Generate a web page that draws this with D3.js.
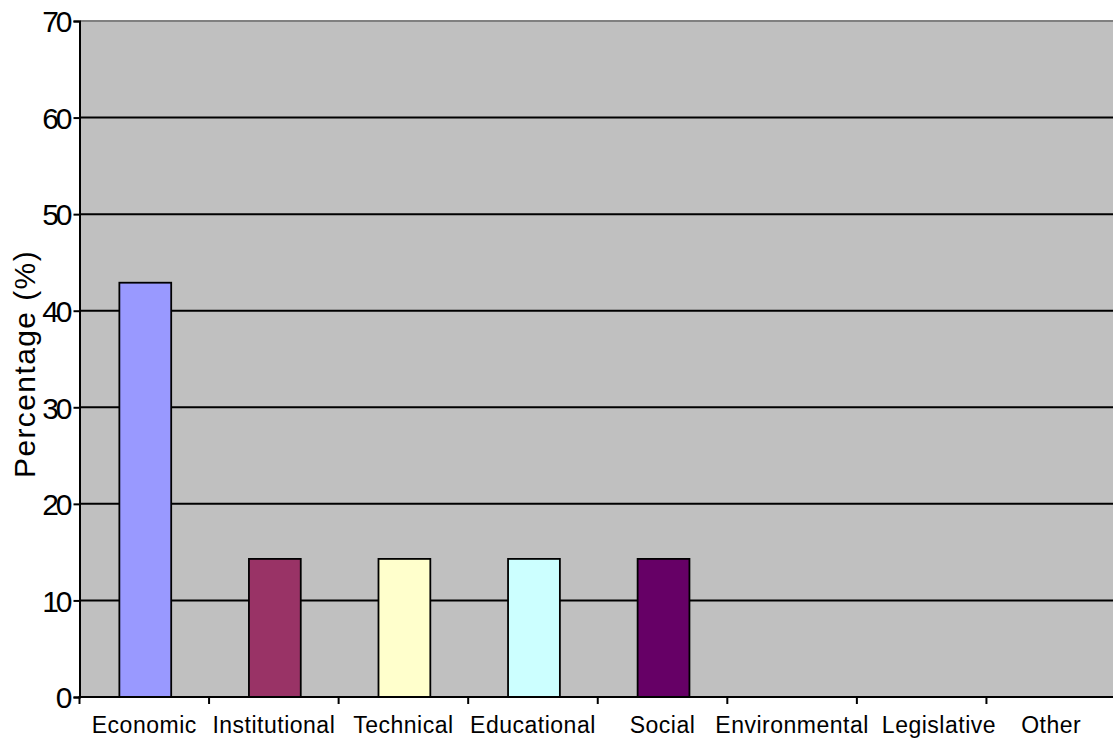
<!DOCTYPE html>
<html>
<head>
<meta charset="utf-8">
<script src="https://cdn.jsdelivr.net/npm/d3@7"></script>
<style>
  html, body { margin: 0; padding: 0; background: #ffffff; }
  svg { display: block; }
  text { font-family: Arial, "Liberation Sans", sans-serif; fill: #000; }
</style>
</head>
<body>
<svg id="chart" width="1113" height="742"></svg>
<script>
const categories = ["Economic", "Institutional", "Technical", "Educational", "Social", "Environmental", "Legislative", "Other"];
const values = [42.9, 14.3, 14.3, 14.3, 14.3, 0, 0, 0];
const colors = ["#9999FF", "#993366", "#FFFFCC", "#CCFFFF", "#660066", "#CCFFFF", "#660066", "#FF8080"];
const yTicks = [0, 10, 20, 30, 40, 50, 60, 70];
const yTitle = "Percentage (%)";

(function () {
const svg = d3.select("#chart");
const pLeft = 79.5, pRight = 1116, pTop = 21, pBottom = 697;

const x = d3.scaleBand().domain(categories).range([pLeft, pRight]).padding(0);
const y = d3.scaleLinear().domain([0, 70]).range([pBottom, pTop]);

// plot background
svg.append("rect")
  .attr("x", pLeft).attr("y", pTop)
  .attr("width", pRight - pLeft).attr("height", pBottom - pTop)
  .attr("fill", "#C0C0C0");

// top border
svg.append("line")
  .attr("x1", pLeft).attr("x2", pRight)
  .attr("y1", pTop).attr("y2", pTop)
  .attr("stroke", "#808080").attr("stroke-width", 2);

// gridlines
svg.append("g").selectAll("line")
  .data(yTicks.filter(d => d > 0 && d < 70))
  .join("line")
  .attr("x1", pLeft).attr("x2", pRight)
  .attr("y1", d => y(d)).attr("y2", d => y(d))
  .attr("stroke", "#000").attr("stroke-width", 2);

// bars
const bw = x.bandwidth() * 0.4;
svg.append("g").selectAll("rect")
  .data(categories.map((c, i) => ({ c, v: values[i], col: colors[i] })))
  .join("rect")
  .attr("x", d => x(d.c) + (x.bandwidth() - bw) / 2 + 1)
  .attr("y", d => y(d.v))
  .attr("width", bw)
  .attr("height", d => y(0) - y(d.v))
  .attr("fill", d => d.col)
  .attr("stroke", "#000")
  .attr("stroke-width", 1.8)
  .attr("visibility", d => d.v > 0 ? "visible" : "hidden");

// y axis
const yAxis = svg.append("g")
  .attr("transform", `translate(${pLeft},0)`)
  .call(d3.axisLeft(y).tickValues(yTicks).tickSize(6).tickPadding(0).tickFormat(d3.format("d")));
yAxis.select(".domain").attr("stroke", "#000").attr("stroke-width", 2);
yAxis.selectAll(".tick line").attr("stroke", "#000").attr("stroke-width", 2);
yAxis.selectAll(".tick text")
  .attr("font-size", 30)
  .attr("letter-spacing", -3)
  .attr("dx", -4)
  .attr("dy", "0.36em")
  .style("font-family", "Arial, 'Liberation Sans', sans-serif")
  .attr("fill", "#000");

// x axis
const xTickScale = d3.scaleLinear().domain([0, categories.length]).range([pLeft, pRight]);
const xAxis = svg.append("g")
  .attr("transform", `translate(0,${pBottom})`);
xAxis.append("line")
  .attr("x1", pLeft - 1).attr("x2", pRight)
  .attr("y1", 0).attr("y2", 0)
  .attr("stroke", "#000").attr("stroke-width", 2);
xAxis.selectAll("line.tk")
  .data(d3.range(categories.length + 1))
  .join("line")
  .attr("class", "tk")
  .attr("x1", d => xTickScale(d)).attr("x2", d => xTickScale(d))
  .attr("y1", 0).attr("y2", 7)
  .attr("stroke", "#000").attr("stroke-width", 2);
const labels = xAxis.selectAll("text")
  .data(categories)
  .join("text")
  .attr("y", 36)
  .attr("text-anchor", "start")
  .attr("font-size", 23)
  .attr("letter-spacing", 0.5)
  .text(d => d);

// place labels centred under categories, pushing right to avoid overlap
let prevRight = -Infinity;
const gap = 13;
labels.each(function (d) {
  const w = this.getComputedTextLength();
  let l = x(d) + x.bandwidth() / 2 - w / 2;
  if (l < prevRight + gap) l = prevRight + gap;
  d3.select(this).attr("x", l);
  prevRight = l + w;
});

// y title
svg.append("text")
  .attr("transform", `translate(35,364) rotate(-90)`)
  .attr("text-anchor", "middle")
  .attr("font-size", 30)
  .attr("letter-spacing", 1.4)
  .text(yTitle);
})();
</script>
</body>
</html>
